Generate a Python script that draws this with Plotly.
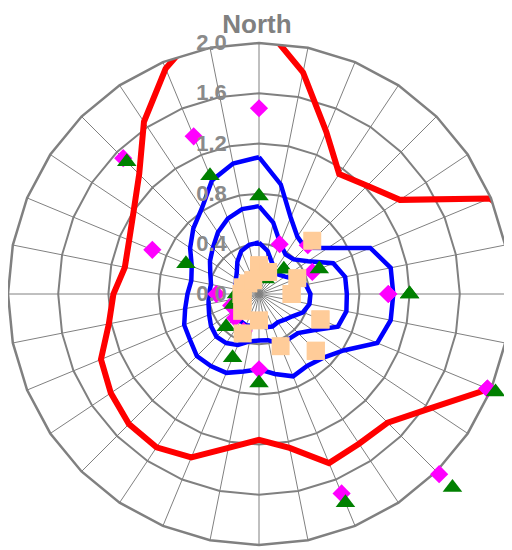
import plotly.graph_objects as go

# ---- data ----
directions = ["N", "NbE", "NNE", "NEbN", "NE", "NEbE", "ENE", "EbN",
              "E", "EbS", "ESE", "SEbE", "SE", "SEbS", "SSE", "SbE",
              "S", "SbW", "SSW", "SWbS", "SW", "SWbW", "WSW", "WbS",
              "W", "WbN", "WNW", "NWbW", "NW", "NWbN", "NNW", "NbW"]
marker_dirs = ["N", "NNE", "NE", "ENE", "E", "ESE", "SE", "SSE",
               "S", "SSW", "SW", "WSW", "W", "WNW", "NW", "NNW"]

diamond_r = [1.48, 0.43, 0.55, 0.46, 1.03, 1.97, 2.03, 1.72,
             0.60, 0.32, 0.27, 0.24, 0.34, 0.92, 1.53, 1.36]
triangle_r = [0.78, 0.13, 0.28, 0.52, 1.20, 2.04, 2.18, 1.80,
              0.71, 0.55, 0.37, 0.22, 0.18, 0.63, 1.49, 1.02]
square_r = [0.23, 0.19, 0.60, 0.33, 0.26, 0.53, 0.64, 0.45,
            0.21, 0.34, 0.19, 0.14, 0.14, 0.14, 0.12, 0.12]

red_r = [2.19, 1.80, 1.40, 1.15, 1.22, 1.35, 1.99, 2.30,
         2.40, 2.30, 1.98, 1.64, 1.45, 1.435, 1.458, 1.25,
         1.162, 1.25, 1.41, 1.47, 1.466, 1.42, 1.363, 1.22,
         1.16, 1.09, 1.12, 1.20, 1.35, 1.65, 1.944, 2.20]
blue_outer_r = [1.09, 0.89, 0.66, 0.55, 0.52, 0.66, 0.96, 1.07,
                1.07, 1.07, 1.02, 0.81, 0.72, 0.69, 0.71, 0.65,
                0.60, 0.63, 0.68, 0.69, 0.70, 0.66, 0.645, 0.60,
                0.57, 0.55, 0.58, 0.66, 0.74, 0.82, 0.98, 1.06]
blue_mid_r = [0.70, 0.58, 0.44, 0.38, 0.39, 0.47, 0.64, 0.70,
              0.70, 0.71, 0.68, 0.52, 0.44, 0.43, 0.43, 0.375,
              0.37, 0.385, 0.44, 0.47, 0.48, 0.46, 0.43, 0.41,
              0.40, 0.39, 0.42, 0.47, 0.52, 0.59, 0.65, 0.69]
blue_inner_r = [0.41, 0.35, 0.27, 0.23, 0.22, 0.25, 0.31, 0.38,
                0.41, 0.41, 0.38, 0.32, 0.29, 0.27, 0.28, 0.27,
                0.25, 0.26, 0.27, 0.26, 0.25, 0.23, 0.21, 0.20,
                0.19, 0.19, 0.20, 0.22, 0.25, 0.31, 0.37, 0.40]

radial_ticks = [0.0, 0.4, 0.8, 1.2, 1.6, 2.0]
R_MAX = 2.0          # outer ring of the grid
R_EXT = 2.3          # extended range for markers that sit beyond the outer ring

# ---- geometry (figure pixels) ----
W, H = 560, 550
CX, CY, RAD = 251.0, 286.0, 251.0
RAD_EXT = RAD * R_EXT / R_MAX
SIN60 = 0.8660254037844386

closed_dirs = directions + directions[:1]

fig = go.Figure()
fig.add_trace(go.Scatterpolar(r=red_r + red_r[:1], theta=closed_dirs, mode="lines",
                              line=dict(color="#ff0000", width=6)))
for rr in (blue_outer_r, blue_mid_r, blue_inner_r):
    fig.add_trace(go.Scatterpolar(r=rr + rr[:1], theta=closed_dirs, mode="lines",
                                  line=dict(color="#0000ff", width=4.5)))

marker_series = [
    (diamond_r, dict(symbol="diamond", size=14, color="#ff00ff")),
    (triangle_r, dict(symbol="triangle-up", size=17, color="#008000")),
    (square_r, dict(symbol="square", size=18, color="#ffcc99")),
]
for sub in ("polar", "polar2"):
    for rr, mk in marker_series:
        fig.add_trace(go.Scatterpolar(r=rr, theta=marker_dirs, mode="markers",
                                      cliponaxis=False, marker=mk, subplot=sub))

axis_font = dict(family="Arial, Liberation Sans", size=22, color="#8a8a8a", weight="bold")
fig.update_layout(
    width=W, height=H,
    margin=dict(l=0, r=0, t=0, b=0),
    paper_bgcolor="white",
    showlegend=False,
    title=dict(text="North", x=(CX - 2) / W, xanchor="center", y=1 - 15.5 / H, yanchor="middle",
               font=dict(family="Arial, Liberation Sans", size=26, color="#808080", weight="bold")),
    polar=dict(
        domain=dict(x=[(CX - RAD) / W, (CX + RAD) / W],
                    y=[(H - CY - RAD) / H, (H - CY + RAD) / H]),
        bgcolor="white",
        gridshape="linear",
        radialaxis=dict(range=[0, R_MAX], tickvals=radial_ticks, tickformat=".1f",
                        angle=90, side="counterclockwise", tickangle=90,
                        ticks="outside", ticklen=24, tickcolor="rgba(0,0,0,0)",
                        showline=False, gridcolor="#808080", gridwidth=2,
                        tickfont=axis_font),
        angularaxis=dict(type="category", categoryorder="array", categoryarray=directions,
                         direction="clockwise", rotation=90,
                         showticklabels=False, ticks="",
                         gridcolor="#808080", gridwidth=1,
                         showline=True, linecolor="#808080", linewidth=2.5),
    ),
    # transparent overlay sharing the same centre and scale, for markers past the outer ring
    polar2=dict(
        domain=dict(x=[CX / W, min(1.0, (CX + RAD_EXT) / W)],
                    y=[(H - CY - RAD_EXT * SIN60) / H, (H - CY) / H]),
        sector=[-60, 0],
        bgcolor="rgba(0,0,0,0)",
        radialaxis=dict(range=[0, R_EXT], visible=False),
        angularaxis=dict(type="category", categoryorder="array", categoryarray=directions,
                         direction="clockwise", rotation=90, visible=False),
    ),
)

fig.write_html("out.html")
